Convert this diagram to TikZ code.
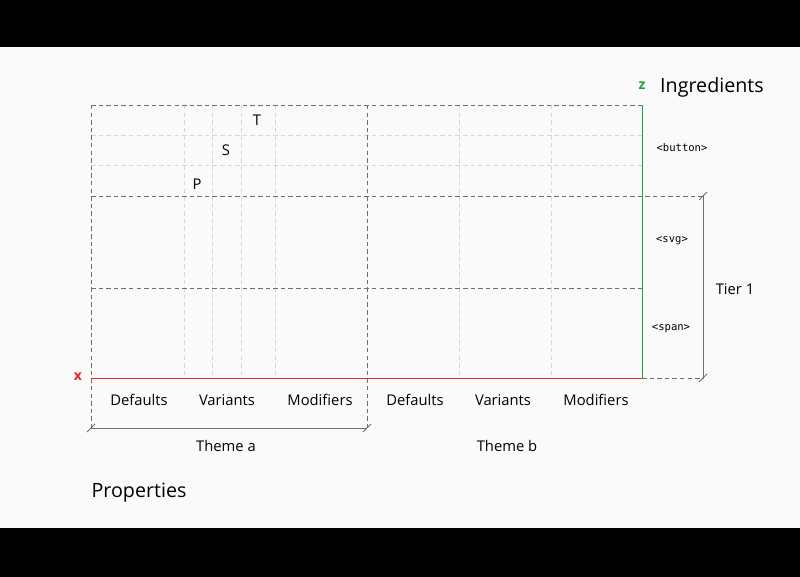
\documentclass[tikz,border=0pt]{standalone}
\usepackage{fontspec}
\setmainfont{Open Sans}
\setmonofont{DejaVu Sans Mono}
\definecolor{pagebg}{HTML}{FAFAFA}
\definecolor{gridgray}{HTML}{6E6E6E}
\definecolor{faintgray}{HTML}{D6D6D6}
\definecolor{axisred}{HTML}{E0282E}
\definecolor{axisgreen}{HTML}{23A23A}
\tikzset{
  major/.style={gridgray, line width=0.6pt, dash pattern=on 3.2pt off 2.2pt},
  minor/.style={faintgray, line width=0.6pt, dash pattern=on 3.2pt off 2.2pt},
  dimline/.style={gridgray, line width=0.6pt},
  lbl/.style={font=\fontsize{10.5}{12}\selectfont, text=black, inner sep=0pt},
  head/.style={font=\fontsize{14}{16}\selectfont, text=black, inner sep=0pt},
  tag/.style={font=\ttfamily\fontsize{7.5}{9}\selectfont, text=black, inner sep=0pt},
  axlab/.style={font=\fontsize{10}{11}\selectfont\bfseries, inner sep=0pt},
}
\begin{document}
\begin{tikzpicture}[x=0.025cm, y=-0.025cm]

    % frame
    \fill[black] (0,0) rectangle (800,577);
    \fill[pagebg] (0,47) rectangle (800,528);
    \useasboundingbox (0,0) rectangle (800,577);

    % minor grid
    \foreach \y in {135,165} \draw[minor] (91,\y) -- (642,\y);
    \foreach \x in {184,212,241,275,459,551} \draw[minor] (\x,105) -- (\x,378);

    % major grid
    \draw[major] (91,105) -- (642,105);
    \draw[major] (91,196) -- (703,196);
    \draw[major] (91,288) -- (642,288);
    \draw[major] (642,378) -- (703,378);
    \draw[major] (91,105) -- (91,428);
    \draw[major] (367,105) -- (367,428);

    % axes
    \coordinate (o) at (91,378);
    \coordinate (xend) at (642,378);
    \coordinate (zend) at (642,105);
    \draw[axisred, line width=0.7pt] (o) -- (xend);
    \draw[axisgreen, line width=0.7pt] (xend) -- (zend);
    \node[axlab, text=axisred] (xlab) at (78,377) {x};
    \node[axlab, text=axisgreen] (zlab) at (642,86) {z};

    % dimensions
    \coordinate (tierT) at (703,196);
    \coordinate (tierB) at (703,378);
    \coordinate (themeL) at (91,428);
    \coordinate (themeR) at (367,428);
    \draw[dimline] (tierT) -- (tierB);
    \draw[dimline] (themeL) -- (themeR);
    \foreach \c in {tierT,tierB,themeL,themeR}
      \draw[dimline] (\c) ++(-4,4) -- ++(8,-8);

    % layers
    \node[tag] (button) at (682,148) {<button>};
    \node[tag] (svg) at (672,241) {<svg>};
    \node[tag] (span) at (671,329) {<span>};
    \node[lbl] (tier) at (735,289) {Tier 1};
    \node[head] (ingr) at (712,87) {Ingredients};

    % tokens
    \node[lbl] (tT) at (257,120) {T};
    \node[lbl] (tS) at (226,150) {S};
    \node[lbl] (tP) at (197,184) {P};

    % columns
    \node[lbl] (defA) at (139,400) {Defaults};
    \node[lbl] (varA) at (227,400) {Variants};
    \node[lbl] (modA) at (320,400) {Modifiers};
    \node[lbl] (defB) at (415,400) {Defaults};
    \node[lbl] (varB) at (503,400) {Variants};
    \node[lbl] (modB) at (596,400) {Modifiers};
    \node[lbl] (themeA) at (226,446) {Theme a};
    \node[lbl] (themeB) at (507,446) {Theme b};
    \node[head] (props) at (139,493) {Properties};

\end{tikzpicture}
\end{document}
